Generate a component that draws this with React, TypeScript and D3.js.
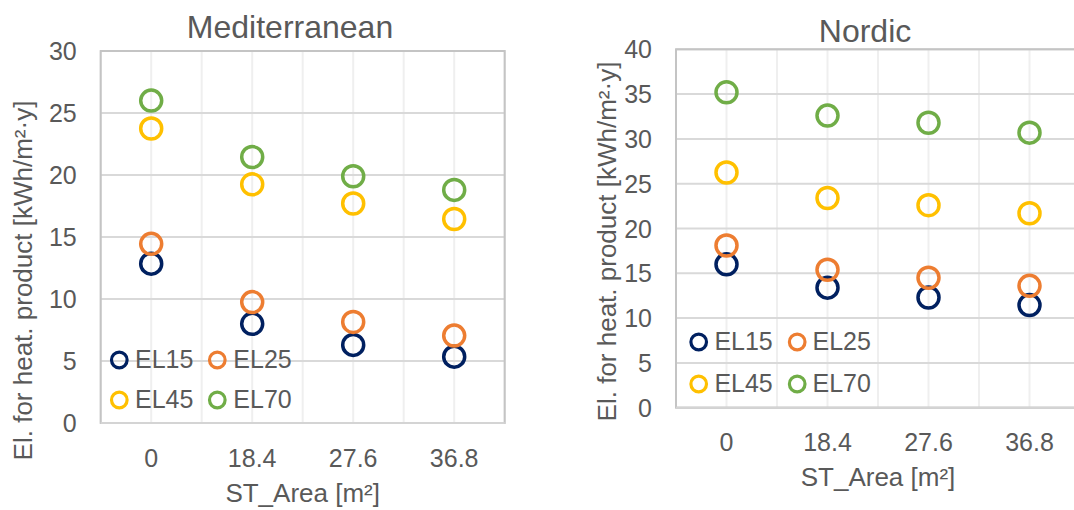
import React from "react";
import * as d3 from "d3";

const categories = ["0", "18.4", "27.6", "36.8"];
const seriesNames = ["EL15", "EL25", "EL45", "EL70"];
const seriesColors = ["#002060", "#ED7D31", "#FFC000", "#70AD47"];

const medEL15 = [12.85, 8.0, 6.3, 5.35];
const medEL25 = [14.45, 9.75, 8.15, 7.05];
const medEL45 = [23.75, 19.25, 17.7, 16.45];
const medEL70 = [26.0, 21.45, 19.9, 18.8];

const norEL15 = [16.0, 13.4, 12.3, 11.45];
const norEL25 = [18.1, 15.4, 14.5, 13.6];
const norEL45 = [26.25, 23.4, 22.6, 21.7];
const norEL70 = [35.2, 32.6, 31.8, 30.7];

const medTicks = [0, 5, 10, 15, 20, 25, 30];
const norTicks = [0, 5, 10, 15, 20, 25, 30, 35, 40];

const FONT = "'Liberation Sans', Arial, sans-serif";
const TEXT = "#595959";

interface PanelProps {
  title: string;
  titleX: number;
  titleY: number;
  left: number;
  right: number;
  top: number;
  bottom: number;
  yMax: number;
  ticks: number[];
  series: number[][];
  yTitleX: number;
  yTitleY: number;
  legendX: number[];
  legendY: number[];
  legendTextX: number[];
}

function Panel(p: PanelProps) {
  const x = d3.scaleBand<string>().domain(categories).range([p.left, p.right]);
  const y = d3.scaleLinear().domain([0, p.yMax]).range([p.bottom, p.top]);
  const bw = x.bandwidth();
  const vLines = d3.range(0, categories.length * 2 + 1).map((i) => p.left + (i * bw) / 2);
  const cx = (c: string) => (x(c) as number) + bw / 2;
  const mid = (p.left + p.right) / 2;
  return (
    <g>
      <text x={p.titleX} y={p.titleY} textAnchor="middle" fontSize={32} fill={TEXT} fontFamily={FONT}>
        {p.title}
      </text>
      {vLines.map((vx, i) => (
        <line key={"v" + i} x1={vx} x2={vx} y1={p.top} y2={p.bottom} stroke="#efefef" strokeWidth={2} />
      ))}
      {p.ticks.map((t) => (
        <line key={"h" + t} x1={p.left} x2={p.right} y1={y(t)} y2={y(t)} stroke="#d9d9d9" strokeWidth={2} />
      ))}
      <rect x={p.left} y={p.top} width={p.right - p.left} height={p.bottom - p.top} fill="none" stroke="#c4c4c4" strokeWidth={2} />
      <line x1={p.left} x2={p.right} y1={p.bottom} y2={p.bottom} stroke="#d4d4d4" strokeWidth={2} />
      {p.ticks.map((t) => (
        <text key={"yt" + t} x={p.left - 24} y={y(t)} dy="0.36em" textAnchor="end" fontSize={25} fill={TEXT} fontFamily={FONT}>
          {t}
        </text>
      ))}
      {categories.map((c) => (
        <text key={"xt" + c} x={cx(c)} y={p.bottom + 43.7} textAnchor="middle" fontSize={25} fill={TEXT} fontFamily={FONT}>
          {c}
        </text>
      ))}
      <text x={mid} y={p.bottom + 78.7} textAnchor="middle" fontSize={26} fill={TEXT} fontFamily={FONT}>
        ST_Area [m²]
      </text>
      <text
        transform={`translate(${p.yTitleX},${p.yTitleY}) rotate(-90)`}
        textAnchor="middle"
        dy="0.36em"
        fontSize={26}
        fill={TEXT}
        fontFamily={FONT}
      >
        El. for heat. product [kWh/m²·y]
      </text>
      {p.series.map((vals, si) =>
        vals.map((v, ci) => (
          <circle
            key={"p" + si + "-" + ci}
            cx={cx(categories[ci])}
            cy={y(v)}
            r={10.5}
            fill="none"
            stroke={seriesColors[si]}
            strokeWidth={3.5}
          />
        ))
      )}
      {seriesNames.map((n, i) => {
        const col = i % 2;
        const row = Math.floor(i / 2);
        return (
          <g key={"lg" + n}>
            <circle cx={p.legendX[col]} cy={p.legendY[row]} r={7.8} fill="none" stroke={seriesColors[i]} strokeWidth={3.2} />
            <text x={p.legendTextX[col]} y={p.legendY[row] + 7.5} fontSize={25} fill={TEXT} fontFamily={FONT}>
              {n}
            </text>
          </g>
        );
      })}
    </g>
  );
}

export default function App() {
  return (
    <svg
      width={1074}
      height={510}
      style={{ position: "absolute", left: 0, top: 0, display: "block", background: "#ffffff" }}
    >
      <rect x={0} y={0} width={1074} height={510} fill="#ffffff" />
      <Panel
        title="Mediterranean"
        titleX={290}
        titleY={38.3}
        left={100.7}
        right={504.7}
        top={51}
        bottom={423}
        yMax={30}
        ticks={medTicks}
        series={[medEL15, medEL25, medEL45, medEL70]}
        yTitleX={22.4}
        yTitleY={280.5}
        legendX={[119.3, 217.3]}
        legendY={[360, 400]}
        legendTextX={[135, 233.3]}
      />
      <Panel
        title="Nordic"
        titleX={865}
        titleY={42}
        left={676}
        right={1080}
        top={49.3}
        bottom={407.7}
        yMax={40}
        ticks={norTicks}
        series={[norEL15, norEL25, norEL45, norEL70]}
        yTitleX={606.4}
        yTitleY={241.5}
        legendX={[698.7, 797.2]}
        legendY={[342, 384]}
        legendTextX={[714.4, 812.5]}
      />
    </svg>
  );
}
